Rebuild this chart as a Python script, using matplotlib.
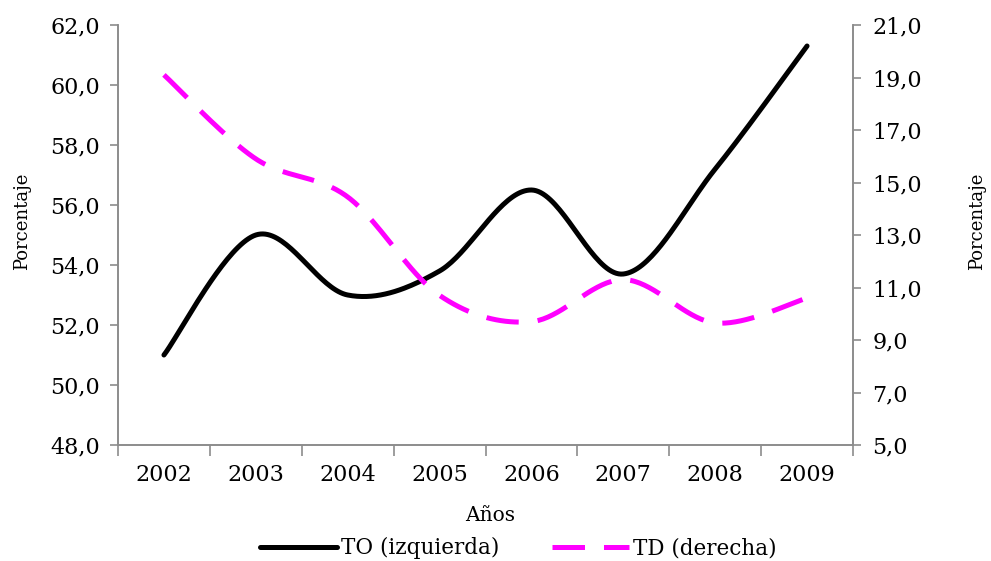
import numpy as np
import matplotlib
matplotlib.use("Agg")
import matplotlib.pyplot as plt
from matplotlib.ticker import FuncFormatter, FixedLocator

plt.rcParams['font.family'] = ['DejaVu Serif']

years = ["2002", "2003", "2004", "2005", "2006", "2007", "2008", "2009"]
to_vals = [51.0, 55.0, 53.0, 53.8, 56.5, 53.7, 57.2, 61.3]
td_vals = [19.1, 15.9, 14.45, 10.7, 9.7, 11.3, 9.65, 10.6]


def smooth(y, n=40):
    # Excel-like smoothed line (Catmull-Rom through the points)
    y = np.asarray(y, dtype=float)
    x = np.arange(len(y), dtype=float)
    xs, ys = [], []
    for i in range(len(y) - 1):
        i0 = max(i - 1, 0)
        i3 = min(i + 2, len(y) - 1)
        p0 = np.array([x[i], y[i]])
        p3 = np.array([x[i + 1], y[i + 1]])
        p1 = p0 + (np.array([x[i + 1], y[i + 1]]) - np.array([x[i0], y[i0]])) / 6
        p2 = p3 - (np.array([x[i3], y[i3]]) - np.array([x[i], y[i]])) / 6
        t = np.linspace(0, 1, n)[:, None]
        pts = ((1 - t) ** 3) * p0 + 3 * ((1 - t) ** 2) * t * p1 + 3 * (1 - t) * t ** 2 * p2 + t ** 3 * p3
        xs.extend(pts[:, 0])
        ys.extend(pts[:, 1])
    return np.array(xs), np.array(ys)


comma = FuncFormatter(lambda v, p: f"{v:.1f}".replace(".", ","))
grey = "#8c8c8c"

fig = plt.figure(figsize=(9.91, 5.61), dpi=100)
ax = fig.add_axes([118 / 991, 1 - 445 / 561, 735 / 991, 420 / 561])
ax2 = ax.twinx()

xs, ys = smooth(to_vals)
l1, = ax.plot(xs, ys, color="black", lw=3.6, solid_capstyle="round", label="TO (izquierda)")
xs, ys = smooth(td_vals)
l2, = ax2.plot(xs, ys, color="#ff00ff", lw=3.6, dashes=(6.5, 3.8), dash_capstyle="butt",
               label="TD (derecha)")

ax.set_xlim(-0.5, 7.5)
ax.set_ylim(48, 62)
ax2.set_ylim(5, 21)
ax.set_yticks(np.arange(48, 62.1, 2))
ax2.set_yticks(np.arange(5, 21.1, 2))
ax.yaxis.set_major_formatter(comma)
ax2.yaxis.set_major_formatter(comma)

ax.set_xticks(range(len(years)))
ax.set_xticklabels(years)
ax.xaxis.set_minor_locator(FixedLocator(np.arange(-0.5, 7.6, 1)))
ax.tick_params(axis="x", which="major", length=0, pad=14, labelsize=16)
ax.tick_params(axis="x", which="minor", length=8, color=grey, width=1.2, direction="out")
ax.tick_params(axis="y", length=6, color=grey, width=1.2, pad=7, labelsize=16)
ax2.tick_params(axis="y", length=6, color=grey, width=1.2, pad=8, labelsize=16)

for a in (ax, ax2):
    a.spines["top"].set_visible(False)
    for s in ("left", "right", "bottom"):
        a.spines[s].set_color(grey)
        a.spines[s].set_linewidth(1.2)

# axis titles
fig.text(22 / 991, 1 - 221 / 561, "Porcentaje", rotation=90, ha="center", va="center", fontsize=13)
fig.text(977 / 991, 1 - 221 / 561, "Porcentaje", rotation=90, ha="center", va="center", fontsize=13)
ax.set_xlabel("Años", fontsize=14.5)
ax.xaxis.set_label_coords(0.506, -0.145)

fig.legend(handles=[l1, l2], loc="center", bbox_to_anchor=(0.523, 1 - 548 / 561), ncol=2,
           frameon=False, fontsize=15.5, handlelength=3.6, handletextpad=0.2,
           columnspacing=2.4, borderaxespad=0)

fig.savefig("out.png", dpi=100)
